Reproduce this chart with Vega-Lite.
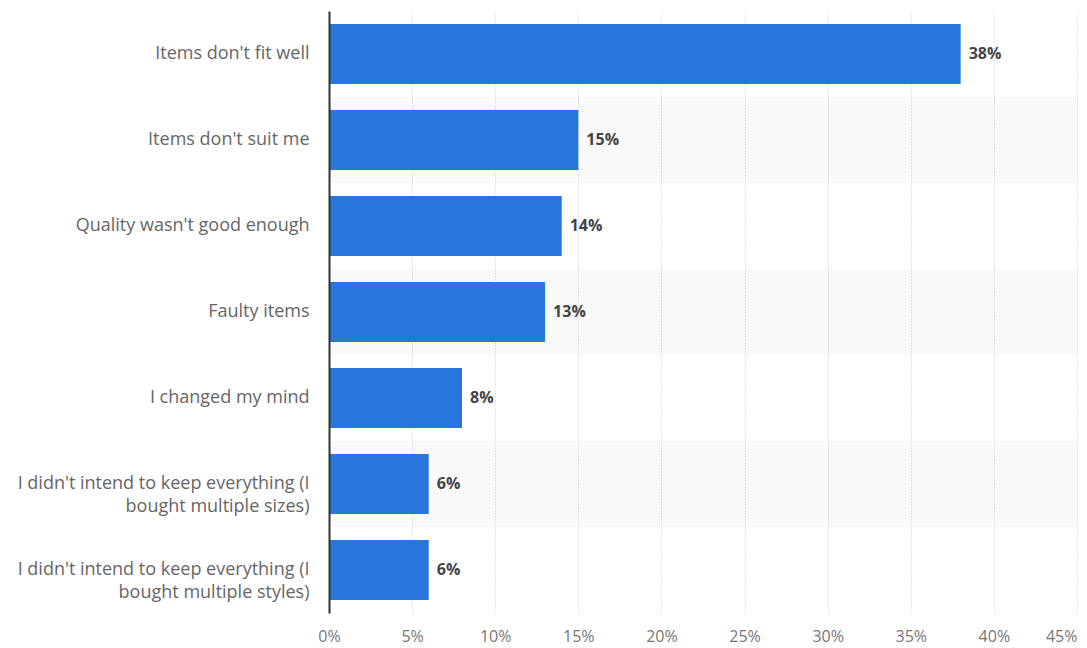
{
  "$schema": "https://vega.github.io/schema/vega-lite/v6.json",
  "autosize": "none",
  "width": 748,
  "height": 602,
  "padding": {"left": 329, "top": 11, "right": 10, "bottom": 35},
  "background": "white",
  "config": {
    "view": {"stroke": null},
    "font": "Open Sans"
  },
  "data": {
    "values": [
      {"reason": "Items don't fit well", "share": 38},
      {"reason": "Items don't suit me", "share": 15},
      {"reason": "Quality wasn't good enough", "share": 14},
      {"reason": "Faulty items", "share": 13},
      {"reason": "I changed my mind", "share": 8},
      {"reason": "I didn't intend to keep everything (I|bought multiple sizes)", "share": 6},
      {"reason": "I didn't intend to keep everything (I|bought multiple styles)", "share": 6}
    ]
  },
  "encoding": {
    "y": {
      "field": "reason",
      "type": "nominal",
      "sort": [
        "Items don't fit well",
        "Items don't suit me",
        "Quality wasn't good enough",
        "Faulty items",
        "I changed my mind",
        "I didn't intend to keep everything (I|bought multiple sizes)",
        "I didn't intend to keep everything (I|bought multiple styles)"
      ],
      "scale": {"paddingInner": 0, "paddingOuter": 0},
      "axis": {
        "title": null,
        "ticks": false,
        "domainColor": "#333333",
        "domainWidth": 2,
        "labelPadding": 20,
        "labelFontSize": 18,
        "labelColor": "#666666",
        "labelLimit": 400,
        "labelExpr": "split(datum.label, '|')",
        "labelLineHeight": 23
      }
    }
  },
  "layer": [
    {
      "transform": [
        {"window": [{"op": "row_number", "as": "rn"}]},
        {"filter": "datum.rn % 2 == 0"}
      ],
      "mark": {"type": "rect", "color": "#000000", "opacity": 0.025},
      "encoding": {
        "x": {"datum": 0, "type": "quantitative"},
        "x2": {"datum": 45}
      }
    },
    {
      "mark": {"type": "bar", "color": "#2875dc", "height": {"band": 0.7}},
      "encoding": {
        "x": {
          "field": "share",
          "type": "quantitative",
          "scale": {"domain": [0, 45], "nice": false},
          "axis": {
            "title": null,
            "values": [0, 5, 10, 15, 20, 25, 30, 35, 40, 45],
            "labelExpr": "datum.value + '%'",
            "labelFlush": false,
            "labelAlign": {"condition": {"test": "datum.value == 45", "value": "right"}, "value": "center"},
            "domain": false,
            "ticks": false,
            "grid": true,
            "gridColor": "#cccccc",
            "gridDash": [1, 2],
            "gridWidth": 1,
            "labelFontSize": 16,
            "labelColor": "#777777",
            "labelPadding": 15
          }
        }
      }
    },
    {
      "transform": [{"calculate": "datum.share + '%'", "as": "label"}],
      "mark": {"type": "text", "align": "left", "dx": 8, "fontSize": 16, "fontWeight": "bold", "color": "#444444"},
      "encoding": {
        "x": {"field": "share", "type": "quantitative"},
        "text": {"field": "label", "type": "nominal"}
      }
    }
  ]
}
